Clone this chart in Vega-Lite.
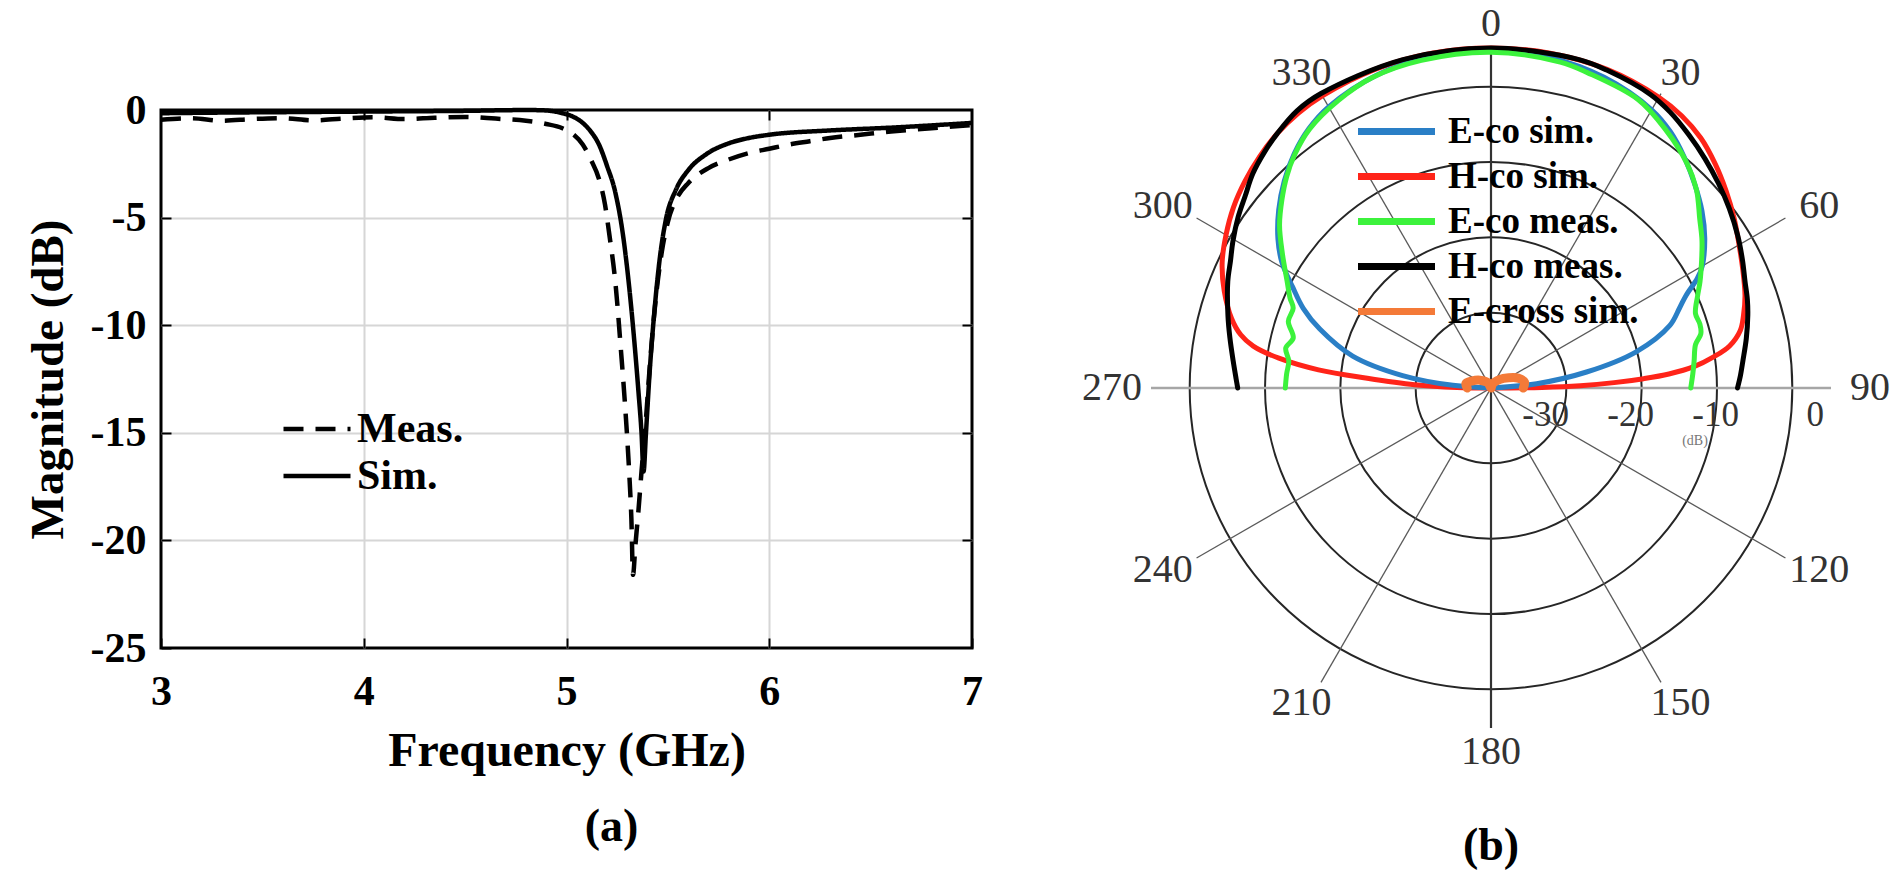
{
  "$schema": "https://vega.github.io/schema/vega-lite/v6.json",
  "background": "white",
  "padding": {"left": 22, "top": 4, "right": 5, "bottom": 5},
  "bounds": "flush",
  "spacing": 179,
  "config": {"font": "Liberation Serif", "legend": {"padding": 0}},
  "datasets": {
    "s11": [
      {"s":"Meas.","f":3.0,"m":-0.45},{"s":"Meas.","f":3.15,"m":-0.38},{"s":"Meas.","f":3.3,"m":-0.5},{"s":"Meas.","f":3.45,"m":-0.42},{"s":"Meas.","f":3.6,"m":-0.38},{"s":"Meas.","f":3.75,"m":-0.48},{"s":"Meas.","f":3.9,"m":-0.4},{"s":"Meas.","f":4.05,"m":-0.34},{"s":"Meas.","f":4.2,"m":-0.42},{"s":"Meas.","f":4.35,"m":-0.36},{"s":"Meas.","f":4.5,"m":-0.32},{"s":"Meas.","f":4.65,"m":-0.4},{"s":"Meas.","f":4.8,"m":-0.5},{"s":"Meas.","f":4.9,"m":-0.65},{"s":"Meas.","f":4.98,"m":-0.85},{"s":"Meas.","f":5.03,"m":-1.1},{"s":"Meas.","f":5.08,"m":-1.6},{"s":"Meas.","f":5.12,"m":-2.3},{"s":"Meas.","f":5.16,"m":-3.2},{"s":"Meas.","f":5.19,"m":-4.4},{"s":"Meas.","f":5.21,"m":-5.7},{"s":"Meas.","f":5.243,"m":-8.2},{"s":"Meas.","f":5.268,"m":-11.1},{"s":"Meas.","f":5.293,"m":-14.3},{"s":"Meas.","f":5.309,"m":-16.8},{"s":"Meas.","f":5.32,"m":-19.0},{"s":"Meas.","f":5.328,"m":-21.6},{"s":"Meas.","f":5.34,"m":-20.2},{"s":"Meas.","f":5.355,"m":-18.6},{"s":"Meas.","f":5.37,"m":-16.8},{"s":"Meas.","f":5.39,"m":-14.6},{"s":"Meas.","f":5.41,"m":-12.0},{"s":"Meas.","f":5.44,"m":-8.8},{"s":"Meas.","f":5.47,"m":-6.6},{"s":"Meas.","f":5.5,"m":-5.2},{"s":"Meas.","f":5.55,"m":-4.0},{"s":"Meas.","f":5.6,"m":-3.4},{"s":"Meas.","f":5.7,"m":-2.7},{"s":"Meas.","f":5.8,"m":-2.3},{"s":"Meas.","f":5.9,"m":-2.0},{"s":"Meas.","f":6.0,"m":-1.8},{"s":"Meas.","f":6.1,"m":-1.6},{"s":"Meas.","f":6.2,"m":-1.45},{"s":"Meas.","f":6.3,"m":-1.3},{"s":"Meas.","f":6.45,"m":-1.15},{"s":"Meas.","f":6.6,"m":-1.0},{"s":"Meas.","f":6.8,"m":-0.85},{"s":"Meas.","f":7.0,"m":-0.7},
      {"s":"Sim.","f":3.0,"m":-0.15},{"s":"Sim.","f":3.3,"m":-0.12},{"s":"Sim.","f":3.6,"m":-0.1},{"s":"Sim.","f":3.9,"m":-0.08},{"s":"Sim.","f":4.2,"m":-0.06},{"s":"Sim.","f":4.5,"m":-0.04},{"s":"Sim.","f":4.7,"m":-0.01},{"s":"Sim.","f":4.8,"m":0.0},{"s":"Sim.","f":4.87,"m":-0.01},{"s":"Sim.","f":4.93,"m":-0.05},{"s":"Sim.","f":4.98,"m":-0.15},{"s":"Sim.","f":5.03,"m":-0.3},{"s":"Sim.","f":5.08,"m":-0.6},{"s":"Sim.","f":5.12,"m":-1.0},{"s":"Sim.","f":5.16,"m":-1.6},{"s":"Sim.","f":5.2,"m":-2.6},{"s":"Sim.","f":5.24,"m":-3.8},{"s":"Sim.","f":5.28,"m":-5.9},{"s":"Sim.","f":5.31,"m":-8.3},{"s":"Sim.","f":5.335,"m":-10.8},{"s":"Sim.","f":5.355,"m":-13.1},{"s":"Sim.","f":5.37,"m":-15.0},{"s":"Sim.","f":5.38,"m":-16.8},{"s":"Sim.","f":5.392,"m":-15.0},{"s":"Sim.","f":5.41,"m":-12.2},{"s":"Sim.","f":5.435,"m":-9.2},{"s":"Sim.","f":5.46,"m":-6.9},{"s":"Sim.","f":5.49,"m":-5.1},{"s":"Sim.","f":5.54,"m":-3.7},{"s":"Sim.","f":5.6,"m":-2.8},{"s":"Sim.","f":5.69,"m":-2.05},{"s":"Sim.","f":5.8,"m":-1.55},{"s":"Sim.","f":5.9,"m":-1.3},{"s":"Sim.","f":6.0,"m":-1.15},{"s":"Sim.","f":6.3,"m":-0.95},{"s":"Sim.","f":6.6,"m":-0.82},{"s":"Sim.","f":7.0,"m":-0.6}
    ],
    "pattern": [
      {"s":"H-co sim.","angle":-90,"dB":-40},{"s":"H-co sim.","angle":-89,"dB":-36},{"s":"H-co sim.","angle":-87.5,"dB":-31},{"s":"H-co sim.","angle":-85.5,"dB":-25.4},{"s":"H-co sim.","angle":-84,"dB":-19.6},{"s":"H-co sim.","angle":-82,"dB":-14.8},{"s":"H-co sim.","angle":-80,"dB":-11.6},{"s":"H-co sim.","angle":-78,"dB":-9.9},{"s":"H-co sim.","angle":-75,"dB":-8.4},{"s":"H-co sim.","angle":-70,"dB":-6.6},{"s":"H-co sim.","angle":-65,"dB":-5.1},{"s":"H-co sim.","angle":-60,"dB":-4.0},{"s":"H-co sim.","angle":-55,"dB":-3.0},{"s":"H-co sim.","angle":-50,"dB":-2.2},{"s":"H-co sim.","angle":-45,"dB":-1.5},{"s":"H-co sim.","angle":-40,"dB":-0.9},{"s":"H-co sim.","angle":-35,"dB":-0.5},{"s":"H-co sim.","angle":-30,"dB":-0.3},{"s":"H-co sim.","angle":-20,"dB":-0.1},{"s":"H-co sim.","angle":-10,"dB":0},{"s":"H-co sim.","angle":0,"dB":0},{"s":"H-co sim.","angle":10,"dB":0},{"s":"H-co sim.","angle":20,"dB":-0.1},{"s":"H-co sim.","angle":30,"dB":-0.5},{"s":"H-co sim.","angle":35,"dB":-0.9},{"s":"H-co sim.","angle":40,"dB":-1.6},{"s":"H-co sim.","angle":45,"dB":-2.7},{"s":"H-co sim.","angle":50,"dB":-3.9},{"s":"H-co sim.","angle":55,"dB":-5.1},{"s":"H-co sim.","angle":60,"dB":-6.3},{"s":"H-co sim.","angle":65,"dB":-7.3},{"s":"H-co sim.","angle":70,"dB":-8.2},{"s":"H-co sim.","angle":74,"dB":-9.1},{"s":"H-co sim.","angle":77,"dB":-9.9},{"s":"H-co sim.","angle":80,"dB":-11.5},{"s":"H-co sim.","angle":82,"dB":-13.5},{"s":"H-co sim.","angle":84,"dB":-16},{"s":"H-co sim.","angle":85.5,"dB":-19},{"s":"H-co sim.","angle":86.5,"dB":-22},{"s":"H-co sim.","angle":87.5,"dB":-25.5},{"s":"H-co sim.","angle":88.5,"dB":-29.5},{"s":"H-co sim.","angle":89.3,"dB":-34},{"s":"H-co sim.","angle":90,"dB":-40},
      {"s":"E-co sim.","angle":-90,"dB":-40},{"s":"E-co sim.","angle":-86,"dB":-35.5},{"s":"E-co sim.","angle":-82,"dB":-29.5},{"s":"E-co sim.","angle":-77,"dB":-23.3},{"s":"E-co sim.","angle":-71,"dB":-18.7},{"s":"E-co sim.","angle":-67,"dB":-16.0},{"s":"E-co sim.","angle":-63,"dB":-13.8},{"s":"E-co sim.","angle":-59,"dB":-11.3},{"s":"E-co sim.","angle":-55,"dB":-9.4},{"s":"E-co sim.","angle":-50,"dB":-7.4},{"s":"E-co sim.","angle":-45,"dB":-5.6},{"s":"E-co sim.","angle":-40,"dB":-4.0},{"s":"E-co sim.","angle":-35,"dB":-2.7},{"s":"E-co sim.","angle":-30,"dB":-1.8},{"s":"E-co sim.","angle":-20,"dB":-0.8},{"s":"E-co sim.","angle":-10,"dB":-0.4},{"s":"E-co sim.","angle":0,"dB":-0.3},{"s":"E-co sim.","angle":10,"dB":-0.5},{"s":"E-co sim.","angle":20,"dB":-1.1},{"s":"E-co sim.","angle":30,"dB":-2.2},{"s":"E-co sim.","angle":35,"dB":-3.2},{"s":"E-co sim.","angle":40,"dB":-4.6},{"s":"E-co sim.","angle":45,"dB":-6.1},{"s":"E-co sim.","angle":50,"dB":-7.6},{"s":"E-co sim.","angle":55,"dB":-9.3},{"s":"E-co sim.","angle":60,"dB":-11.3},{"s":"E-co sim.","angle":62,"dB":-12.5},{"s":"E-co sim.","angle":64.6,"dB":-14.6},{"s":"E-co sim.","angle":67,"dB":-15.9},{"s":"E-co sim.","angle":70.7,"dB":-17.7},{"s":"E-co sim.","angle":76,"dB":-22.4},{"s":"E-co sim.","angle":80.5,"dB":-28.6},{"s":"E-co sim.","angle":84.6,"dB":-34.6},{"s":"E-co sim.","angle":90,"dB":-40},
      {"s":"H-co meas.","angle":-90,"dB":-10.2},{"s":"H-co meas.","angle":-88,"dB":-10.0},{"s":"H-co meas.","angle":-84,"dB":-9.5},{"s":"H-co meas.","angle":-79,"dB":-8.7},{"s":"H-co meas.","angle":-74.6,"dB":-7.9},{"s":"H-co meas.","angle":-68,"dB":-6.6},{"s":"H-co meas.","angle":-64,"dB":-5.9},{"s":"H-co meas.","angle":-60.5,"dB":-5.1},{"s":"H-co meas.","angle":-56,"dB":-4.1},{"s":"H-co meas.","angle":-52,"dB":-3.3},{"s":"H-co meas.","angle":-48,"dB":-2.3},{"s":"H-co meas.","angle":-43.7,"dB":-1.5},{"s":"H-co meas.","angle":-40,"dB":-0.9},{"s":"H-co meas.","angle":-35,"dB":-0.2},{"s":"H-co meas.","angle":-30,"dB":0},{"s":"H-co meas.","angle":-15,"dB":0},{"s":"H-co meas.","angle":0,"dB":0},{"s":"H-co meas.","angle":15,"dB":0},{"s":"H-co meas.","angle":20,"dB":-0.2},{"s":"H-co meas.","angle":28.5,"dB":-0.7},{"s":"H-co meas.","angle":33,"dB":-1.3},{"s":"H-co meas.","angle":38,"dB":-2.2},{"s":"H-co meas.","angle":43,"dB":-3.1},{"s":"H-co meas.","angle":48,"dB":-4.0},{"s":"H-co meas.","angle":53,"dB":-4.9},{"s":"H-co meas.","angle":58.4,"dB":-5.9},{"s":"H-co meas.","angle":63,"dB":-6.8},{"s":"H-co meas.","angle":67.3,"dB":-7.6},{"s":"H-co meas.","angle":71,"dB":-8.1},{"s":"H-co meas.","angle":74.2,"dB":-8.6},{"s":"H-co meas.","angle":79,"dB":-9.4},{"s":"H-co meas.","angle":83.9,"dB":-10.2},{"s":"H-co meas.","angle":87,"dB":-10.6},{"s":"H-co meas.","angle":90,"dB":-11.0},
      {"s":"E-co meas.","angle":-90,"dB":-15.8},{"s":"E-co meas.","angle":-86,"dB":-15.9},{"s":"E-co meas.","angle":-82.4,"dB":-16.0},{"s":"E-co meas.","angle":-79,"dB":-15.4},{"s":"E-co meas.","angle":-75.8,"dB":-16.0},{"s":"E-co meas.","angle":-71.8,"dB":-14.9},{"s":"E-co meas.","angle":-68,"dB":-14.9},{"s":"E-co meas.","angle":-65.9,"dB":-14.1},{"s":"E-co meas.","angle":-62.3,"dB":-12.9},{"s":"E-co meas.","angle":-57.2,"dB":-10.8},{"s":"E-co meas.","angle":-52.4,"dB":-8.6},{"s":"E-co meas.","angle":-48,"dB":-6.9},{"s":"E-co meas.","angle":-44,"dB":-5.4},{"s":"E-co meas.","angle":-40,"dB":-4.1},{"s":"E-co meas.","angle":-35,"dB":-2.8},{"s":"E-co meas.","angle":-28,"dB":-1.7},{"s":"E-co meas.","angle":-21,"dB":-0.9},{"s":"E-co meas.","angle":-12,"dB":-0.6},{"s":"E-co meas.","angle":0,"dB":-0.5},{"s":"E-co meas.","angle":12,"dB":-0.8},{"s":"E-co meas.","angle":17,"dB":-1.2},{"s":"E-co meas.","angle":27,"dB":-1.9},{"s":"E-co meas.","angle":34,"dB":-3.3},{"s":"E-co meas.","angle":41,"dB":-4.9},{"s":"E-co meas.","angle":46,"dB":-6.4},{"s":"E-co meas.","angle":51,"dB":-8.4},{"s":"E-co meas.","angle":55,"dB":-9.7},{"s":"E-co meas.","angle":59,"dB":-11.1},{"s":"E-co meas.","angle":63,"dB":-12.4},{"s":"E-co meas.","angle":66,"dB":-13.4},{"s":"E-co meas.","angle":70,"dB":-14.4},{"s":"E-co meas.","angle":73,"dB":-14.3},{"s":"E-co meas.","angle":75.5,"dB":-14.5},{"s":"E-co meas.","angle":78,"dB":-15.4},{"s":"E-co meas.","angle":82.5,"dB":-15.9},{"s":"E-co meas.","angle":86,"dB":-16.2},{"s":"E-co meas.","angle":90,"dB":-16.5},
      {"s":"E-cross sim.","angle":-90,"dB":-37.2},{"s":"E-cross sim.","angle":-80,"dB":-37.0},{"s":"E-cross sim.","angle":-70,"dB":-37.6},{"s":"E-cross sim.","angle":-55,"dB":-38.4},{"s":"E-cross sim.","angle":-30,"dB":-39.3},{"s":"E-cross sim.","angle":0,"dB":-40},{"s":"E-cross sim.","angle":20,"dB":-39.5},{"s":"E-cross sim.","angle":45,"dB":-38.6},{"s":"E-cross sim.","angle":60,"dB":-37.6},{"s":"E-cross sim.","angle":70,"dB":-36.6},{"s":"E-cross sim.","angle":80,"dB":-36.0},{"s":"E-cross sim.","angle":90,"dB":-36.2}
    ],
    "rings": [{"r":0.25},{"r":0.5},{"r":0.75},{"r":1}],
    "spokes": [{"a":0},{"a":30},{"a":60},{"a":90},{"a":120},{"a":150}],
    "angles": [{"a":0,"t":"0"},{"a":30,"t":"30"},{"a":60,"t":"60"},{"a":90,"t":"90"},{"a":120,"t":"120"},{"a":150,"t":"150"},{"a":180,"t":"180"},{"a":210,"t":"210"},{"a":240,"t":"240"},{"a":270,"t":"270"},{"a":300,"t":"300"},{"a":330,"t":"330"}],
    "radial": [{"v":-30,"t":"-30"},{"v":-20,"t":"-20"},{"v":-10,"t":"-10"},{"v":0,"t":"0"}]
  },
  "hconcat": [
    {
      "width": 811,
      "height": 538,
      "view": {"stroke": "black", "strokeWidth": 3, "fill": "white"},
      "title": {"text": "(a)", "orient": "bottom", "frame": "group", "fontSize": 46, "fontWeight": "bold", "font": "Liberation Serif", "color": "black", "offset": 30, "dx": 45, "baseline": "top"},
      "layer": [
        {
          "data": {"name": "s11"},
          "mark": {"type": "line", "color": "black", "strokeWidth": 4.5, "interpolate": "monotone"},
          "encoding": {
            "x": {"field": "f", "type": "quantitative", "scale": {"domain": [3, 7], "nice": false, "zero": false},
              "axis": {"values": [3,4,5,6,7], "title": "Frequency (GHz)", "titleFont": "Liberation Serif", "titleFontSize": 48, "titleFontWeight": "bold", "titleColor": "black", "titlePadding": 15,
                "labelFont": "Liberation Serif", "labelFontSize": 42, "labelFontWeight": "bold", "labelColor": "black", "labelPadding": 33, "labelFlush": false,
                "ticks": true, "tickSize": -10, "tickColor": "black", "tickWidth": 2,
                "domain": false, "grid": true, "gridColor": "#d6d6d6", "gridWidth": 2,
                "gridOpacity": {"condition": {"test": "datum.value === 3 || datum.value === 7", "value": 0}, "value": 1}}},
            "y": {"field": "m", "type": "quantitative", "scale": {"domain": [-25, 0], "nice": false, "zero": false},
              "axis": {"values": [0,-5,-10,-15,-20,-25], "labelExpr": "'' + datum.value", "title": "Magnitude (dB)", "titleFont": "Liberation Serif", "titleFontSize": 47, "titleFontWeight": "bold", "titleColor": "black", "titlePadding": 18,
                "labelFont": "Liberation Serif", "labelFontSize": 42, "labelFontWeight": "bold", "labelColor": "black", "labelPadding": 25, "labelFlush": false,
                "ticks": true, "tickSize": -10, "tickColor": "black", "tickWidth": 2,
                "domain": false, "grid": true, "gridColor": "#d6d6d6", "gridWidth": 2,
                "gridOpacity": {"condition": {"test": "datum.value === 0 || datum.value === -25", "value": 0}, "value": 1}}},
            "strokeDash": {"field": "s", "type": "nominal", "scale": {"domain": ["Meas.", "Sim."], "range": [[20, 12], [1, 0]]},
              "legend": {"orient": "none", "legendX": 135, "legendY": 298, "title": null, "symbolType": "M-3.35,0H3.35", "symbolSize": 400, "symbolStrokeWidth": 4.5, "symbolStrokeColor": "black", "symbolFillColor": "transparent",
                "labelFont": "Liberation Serif", "labelFontSize": 42, "labelFontWeight": "bold", "labelColor": "black", "labelOffset": 19, "labelLimit": 400, "rowPadding": 5, "padding": 0}}
          }
        },
        {
          "data": {"name": "s11"},
          "mark": {"type": "line", "opacity": 0},
          "encoding": {
            "x": {"field": "f", "type": "quantitative", "scale": {"domain": [3, 7], "nice": false, "zero": false},
              "axis": {"orient": "top", "values": [4,5,6], "labels": false, "title": null, "grid": false, "domain": false, "ticks": true, "tickSize": -10, "tickColor": "black", "tickWidth": 2}},
            "y": {"field": "m", "type": "quantitative", "scale": {"domain": [-25, 0], "nice": false, "zero": false},
              "axis": {"orient": "right", "values": [-5,-10,-15,-20], "labels": false, "title": null, "grid": false, "domain": false, "ticks": true, "tickSize": -10, "tickColor": "black", "tickWidth": 2}}
          }
        }
      ],
      "resolve": {"axis": {"x": "independent", "y": "independent"}}
    },
    {
      "width": 680,
      "height": 538,
      "view": {"stroke": null},
      "title": {"text": "(b)", "orient": "bottom", "frame": "group", "fontSize": 46, "fontWeight": "bold", "font": "Liberation Serif", "color": "black", "offset": 52, "baseline": "top"},
      "layer": [
        {
          "data": {"name": "rings"},
          "mark": {"type": "point", "shape": "circle", "filled": false, "stroke": "#262626", "strokeWidth": 2, "opacity": 1},
          "encoding": {
            "x": {"datum": 0, "type": "quantitative", "scale": {"domain": [-1, 1], "nice": false, "zero": false}, "axis": null},
            "y": {"datum": 0, "type": "quantitative", "scale": {"domain": [-0.76471, 0.81765], "nice": false, "zero": false}, "axis": null},
            "size": {"field": "r", "type": "quantitative", "scale": {"type": "pow", "exponent": 2, "domain": [0, 1], "range": [0, 363168], "zero": true, "nice": false}, "legend": null}
          }
        },
        {
          "data": {"name": "spokes"},
          "transform": [
            {"calculate": "sin(datum.a * PI / 180)", "as": "x1"},
            {"calculate": "cos(datum.a * PI / 180)", "as": "y1"},
            {"calculate": "-datum.x1", "as": "x2"},
            {"calculate": "-datum.y1", "as": "y2"}
          ],
          "mark": {"type": "rule"},
          "encoding": {
            "x": {"field": "x1", "type": "quantitative", "scale": {"domain": [-1, 1], "nice": false, "zero": false}, "axis": null},
            "y": {"field": "y1", "type": "quantitative", "scale": {"domain": [-0.76471, 0.81765], "nice": false, "zero": false}, "axis": null},
            "x2": {"field": "x2"},
            "y2": {"field": "y2"},
            "color": {"condition": [{"test": "datum.a === 0", "value": "#333333"}, {"test": "datum.a === 90", "value": "#a6a6a6"}], "value": "#5a5a5a"},
            "strokeWidth": {"condition": [{"test": "datum.a === 0", "value": 2.2}, {"test": "datum.a === 90", "value": 2.5}], "value": 1.3}
          }
        },
        {
          "data": {"name": "pattern"},
          "transform": [
            {"calculate": "max(0, (datum.dB + 40) / 40)", "as": "r"},
            {"calculate": "datum.r * sin(datum.angle * PI / 180)", "as": "px"},
            {"calculate": "datum.r * cos(datum.angle * PI / 180)", "as": "py"}
          ],
          "mark": {"type": "line", "strokeCap": "round", "strokeJoin": "round", "interpolate": "catmull-rom"},
          "encoding": {
            "x": {"field": "px", "type": "quantitative", "scale": {"domain": [-1, 1], "nice": false, "zero": false}, "axis": null},
            "y": {"field": "py", "type": "quantitative", "scale": {"domain": [-0.76471, 0.81765], "nice": false, "zero": false}, "axis": null},
            "order": {"field": "angle", "type": "quantitative"},
            "color": {"field": "s", "type": "nominal",
              "scale": {"domain": ["E-co sim.", "H-co sim.", "E-co meas.", "H-co meas.", "E-cross sim."], "range": ["#2a7fc6", "#ff2419", "#3cf23c", "#000000", "#f47a38"]},
              "legend": {"orient": "none", "legendX": 1217, "legendY": 3, "title": null, "symbolType": "M-3.85,0H3.85", "symbolSize": 400, "symbolStrokeWidth": 7, "symbolFillColor": "transparent", "symbolOpacity": 1,
                "labelFont": "Liberation Serif", "labelFontSize": 37, "labelFontWeight": "bold", "labelColor": "black", "labelOffset": 33, "labelLimit": 400, "rowPadding": 7, "padding": 0}},
            "strokeWidth": {"condition": {"test": "datum.s === 'E-cross sim.'", "value": 9}, "value": 5}
          }
        },
        {
          "data": {"name": "angles"},
          "transform": [
            {"calculate": "1.115 * sin(datum.a * PI / 180)", "as": "lx"},
            {"calculate": "1.07 * cos(datum.a * PI / 180)", "as": "ly"}
          ],
          "mark": {"type": "text", "font": "Liberation Serif", "fontSize": 40, "color": "#333333", "align": "center", "baseline": "middle"},
          "encoding": {
            "x": {"field": "lx", "type": "quantitative", "scale": {"domain": [-1, 1], "nice": false, "zero": false}, "axis": null},
            "y": {"field": "ly", "type": "quantitative", "scale": {"domain": [-0.76471, 0.81765], "nice": false, "zero": false}, "axis": null},
            "text": {"field": "t", "type": "nominal"}
          }
        },
        {
          "data": {"name": "radial"},
          "transform": [{"calculate": "(datum.v + 40) / 40", "as": "rx"}],
          "mark": {"type": "text", "font": "Liberation Serif", "fontSize": 35, "color": "#333333", "align": "right", "baseline": "middle", "dx": -7, "dy": 27},
          "encoding": {
            "x": {"field": "rx", "type": "quantitative", "scale": {"domain": [-1, 1], "nice": false, "zero": false}, "axis": null},
            "y": {"datum": 0, "type": "quantitative", "scale": {"domain": [-0.76471, 0.81765], "nice": false, "zero": false}, "axis": null},
            "text": {"field": "t", "type": "nominal"}
          }
        },
        {
          "data": {"values": [{"t": "(dB)"}]},
          "mark": {"type": "text", "font": "Liberation Serif", "fontSize": 14, "color": "#777777", "align": "center", "baseline": "middle"},
          "encoding": {
            "x": {"datum": 0.6, "type": "quantitative", "scale": {"domain": [-1, 1], "nice": false, "zero": false}, "axis": null},
            "y": {"datum": -0.155, "type": "quantitative", "scale": {"domain": [-0.76471, 0.81765], "nice": false, "zero": false}, "axis": null},
            "text": {"field": "t", "type": "nominal"}
          }
        }
      ]
    }
  ]
}
